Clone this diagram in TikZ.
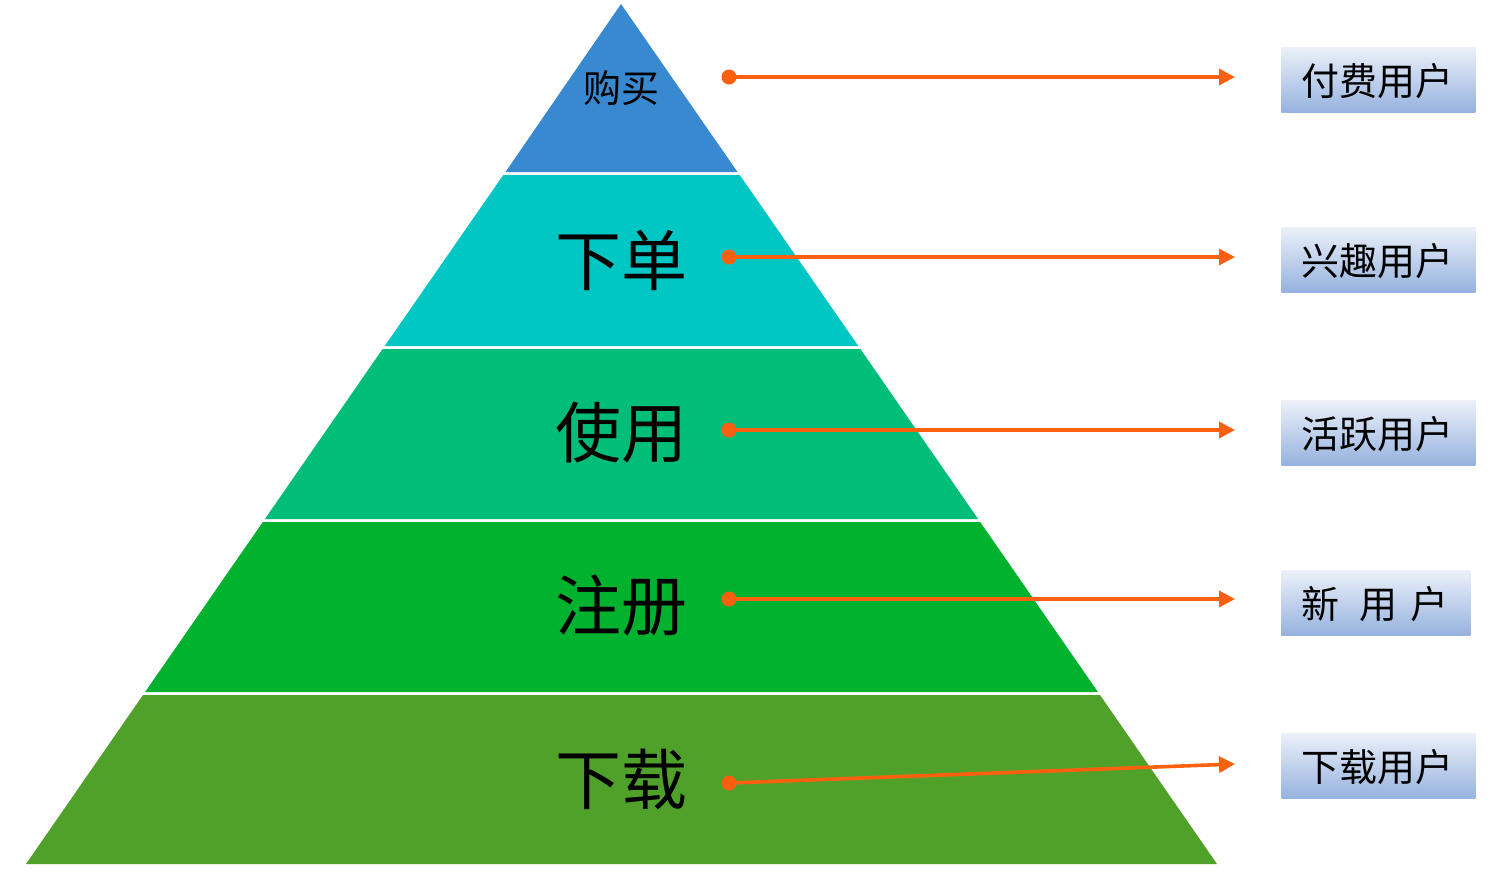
\documentclass[tikz,border=0pt]{standalone}
\usepackage{fontspec}
\setmainfont{Noto Sans CJK SC}
\usetikzlibrary{arrows.meta}
\definecolor{tierA}{HTML}{3889D0}
\definecolor{tierB}{HTML}{00C6C4}
\definecolor{tierC}{HTML}{00BE78}
\definecolor{tierD}{HTML}{00B22D}
\definecolor{tierE}{HTML}{4FA129}
\definecolor{arrowc}{HTML}{FF6010}
\definecolor{boxtop}{HTML}{EBF0F9}
\definecolor{boxbot}{HTML}{96B2DF}
\tikzset{
  tierlabel/.style={inner sep=0pt, text=black, font=\fontsize{33}{33}\selectfont},
  smalltier/.style={inner sep=0pt, text=black, font=\fontsize{19}{19}\selectfont},
  userbox/.style={anchor=north west, inner sep=0pt, minimum height=32.5pt, text width=97pt, align=left, top color=boxtop, bottom color=boxbot, font=\fontsize{19}{19}\selectfont, text depth=0pt},
  dotnode/.style={circle, fill=arrowc, inner sep=0pt, minimum size=7.5pt},
  flow/.style={draw=arrowc, line width=1.8pt, -{Triangle[length=8pt,width=8pt]}},
}
\begin{document}
\begin{tikzpicture}[x=0.5pt,y=-0.5pt]
\useasboundingbox (0,0) rectangle (1504,880);
% tiers
\fill[tierA] (621,4) -- (737.5,172) -- (505.5,172) -- cycle;
\fill[tierB] (503.3,175) -- (739.7,175) -- (858.3,346) -- (384.7,346) -- cycle;
\fill[tierC] (382.6,349) -- (860.4,349) -- (978.1,519) -- (264.9,519) -- cycle;
\fill[tierD] (262.8,522) -- (980.2,522) -- (1097.9,692) -- (145.1,692) -- cycle;
\fill[tierE] (143.0,695) -- (1100.0,695) -- (1217,864) -- (26,864) -- cycle;
% tier labels
\node[smalltier] (t1) at (621,88) {购买};
\node[tierlabel] (t2) at (621,261) {下单};
\node[tierlabel] (t3) at (621,433) {使用};
\node[tierlabel] (t4) at (621,605) {注册};
\node[tierlabel] (t5) at (621,779) {下载};
% user boxes
\node[userbox] (u1) at (1281,47) {\hspace{10pt}付费用户};
\node[userbox] (u2) at (1281,227) {\hspace{10pt}兴趣用户};
\node[userbox] (u3) at (1281,400) {\hspace{10pt}活跃用户};
\node[userbox, text width=94.5pt] (u4) at (1281,570) {\hspace{10pt}新\hspace{10pt}用\hspace{6.5pt}户};
\node[userbox] (u5) at (1281,733) {\hspace{10pt}下载用户};
% dots and arrow ends
\node[dotnode] (d1) at (729,77) {};
\node[dotnode] (d2) at (729,257) {};
\node[dotnode] (d3) at (729,430) {};
\node[dotnode] (d4) at (729,599) {};
\node[dotnode] (d5) at (729,783) {};
\coordinate (e1) at (1235,77);
\coordinate (e2) at (1235,257);
\coordinate (e3) at (1235,430);
\coordinate (e4) at (1235,599);
\coordinate (e5) at (1235,764);
\foreach \i in {1,...,5} {
  \draw[flow] (d\i.center) -- (e\i);
}
\end{tikzpicture}
\end{document}
